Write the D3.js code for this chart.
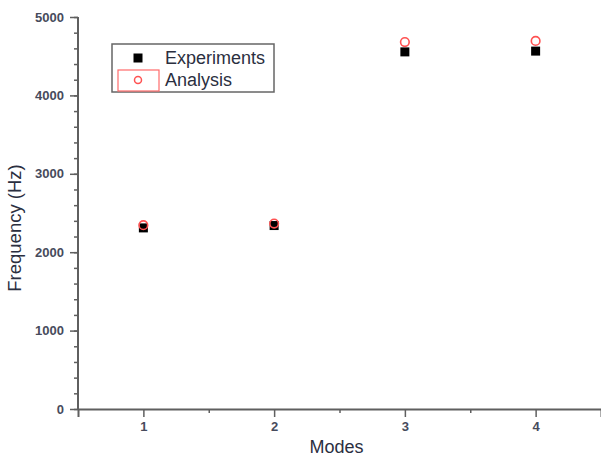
<!DOCTYPE html>
<html>
<head>
<meta charset="utf-8">
<script src="https://cdn.jsdelivr.net/npm/d3@7"></script>
<style>
    body { margin: 0; background: #fff; }
    svg { display: block; font-family: "Liberation Sans", Arial, sans-serif; }
</style>
</head>
<body>
<div id="wrapper"></div>
<script>
// data
const modes = [1, 2, 3, 4]
const experiments = [2310, 2340, 4555, 4565]
const analysis = [2345, 2365, 4680, 4695]
const yTicks = [0, 1000, 2000, 3000, 4000, 5000]
const xTicks = [1, 2, 3, 4]

function drawChart(){
    // dimensions for wrapper
    let dimensions = {
        width: 601,
        height: 457,
        margin: {
            top: 17,
            right: 0,
            bottom: 48,
            left: 78,
        },
    }
    dimensions.boundedWidth = dimensions.width - dimensions.margin.left - dimensions.margin.right
    dimensions.boundedHeight = dimensions.height - dimensions.margin.top - dimensions.margin.bottom

    const wrapper = d3.select("#wrapper")
        .append("svg")
        .attr("width", dimensions.width)
        .attr("height", dimensions.height)

    const bounds = wrapper.append("g")
        .attr("transform", `translate(${dimensions.margin.left},${dimensions.margin.top})`)

    const xScale = d3.scaleLinear()
        .domain([0.5, 4.5])
        .range([0, dimensions.boundedWidth])

    const yScale = d3.scaleLinear()
        .domain([0, 5000])
        .range([dimensions.boundedHeight, 0])

    const axisColor = "#5f5f5f"
    const labelColor = "#474b5c"

    // minor ticks first
    const yMinor = bounds.append("g")
        .call(d3.axisLeft(yScale).tickValues(d3.range(0, 5001, 200)).tickSize(4).tickFormat(""))
    const xMinor = bounds.append("g")
        .attr("transform", `translate(0,${dimensions.boundedHeight})`)
        .call(d3.axisBottom(xScale).tickValues([1.5, 2.5, 3.5]).tickSize(4).tickFormat(""))

    const yAxis = bounds.append("g")
        .call(d3.axisLeft(yScale).tickValues(yTicks).tickSize(8).tickPadding(6).tickFormat(d3.format("d")))
    const xAxis = bounds.append("g")
        .attr("transform", `translate(0,${dimensions.boundedHeight})`)
        .call(d3.axisBottom(xScale).tickValues(xTicks).tickSize(8).tickPadding(5).tickFormat(d3.format("d")))

    for (const g of [yMinor, xMinor, yAxis, xAxis]) {
        g.select(".domain").attr("stroke", axisColor).attr("stroke-width", 2)
        g.selectAll(".tick line").attr("stroke", axisColor).attr("stroke-width", 1.5)
        g.selectAll(".tick text")
            .attr("fill", labelColor)
            .style("font-size", "13px")
            .style("font-weight", "bold")
    }
    yMinor.select(".domain").remove()
    xMinor.select(".domain").remove()
    yAxis.select(".domain").attr("d", `M0,${dimensions.boundedHeight}V0`)

    // axis titles
    bounds.append("text")
        .attr("x", dimensions.boundedWidth / 2 - 3)
        .attr("y", dimensions.boundedHeight + 44)
        .attr("text-anchor", "middle")
        .attr("fill", "#2b2f3f")
        .style("font-size", "18px")
        .text("Modes")

    bounds.append("text")
        .attr("transform", `translate(${-57},${dimensions.boundedHeight / 2 + 15}) rotate(-90)`)
        .attr("text-anchor", "middle")
        .attr("fill", "#2b2f3f")
        .style("font-size", "18.5px")
        .text("Frequency (Hz)")

    // points
    const sq = 9
    bounds.selectAll(".exp")
        .data(modes)
        .join("rect")
        .attr("class", "exp")
        .attr("x", (d, i) => xScale(d) - sq / 2)
        .attr("y", (d, i) => yScale(experiments[i]) - sq / 2)
        .attr("width", sq)
        .attr("height", sq)
        .attr("fill", "#000")

    bounds.selectAll(".ana")
        .data(modes)
        .join("circle")
        .attr("class", "ana")
        .attr("cx", (d, i) => xScale(d))
        .attr("cy", (d, i) => yScale(analysis[i]))
        .attr("r", 4.3)
        .attr("fill", "none")
        .attr("stroke", "#ff5252")
        .attr("stroke-width", 1.6)

    // legend
    const legend = wrapper.append("g")
    legend.append("rect")
        .attr("x", 112).attr("y", 44)
        .attr("width", 162).attr("height", 48)
        .attr("fill", "#fff")
        .attr("stroke", "#666")
        .attr("stroke-width", 1.5)
    legend.append("rect")
        .attr("x", 138 - sq / 2).attr("y", 58 - sq / 2)
        .attr("width", sq).attr("height", sq)
        .attr("fill", "#000")
    legend.append("rect")
        .attr("x", 118).attr("y", 70)
        .attr("width", 41).attr("height", 21)
        .attr("fill", "none")
        .attr("stroke", "#ff6b6b")
        .attr("stroke-width", 1.2)
    legend.append("circle")
        .attr("cx", 138).attr("cy", 80)
        .attr("r", 3.5)
        .attr("fill", "none")
        .attr("stroke", "#ff5252")
        .attr("stroke-width", 1.5)
    legend.selectAll(".ltext")
        .data(["Experiments", "Analysis"])
        .join("text")
        .attr("class", "ltext")
        .attr("x", 165)
        .attr("y", (d, i) => 58 + i * 22)
        .attr("dy", "0.35em")
        .attr("fill", "#2b2f3f")
        .style("font-size", "18px")
        .text(d => d)
}
drawChart()
</script>
</body>
</html>
